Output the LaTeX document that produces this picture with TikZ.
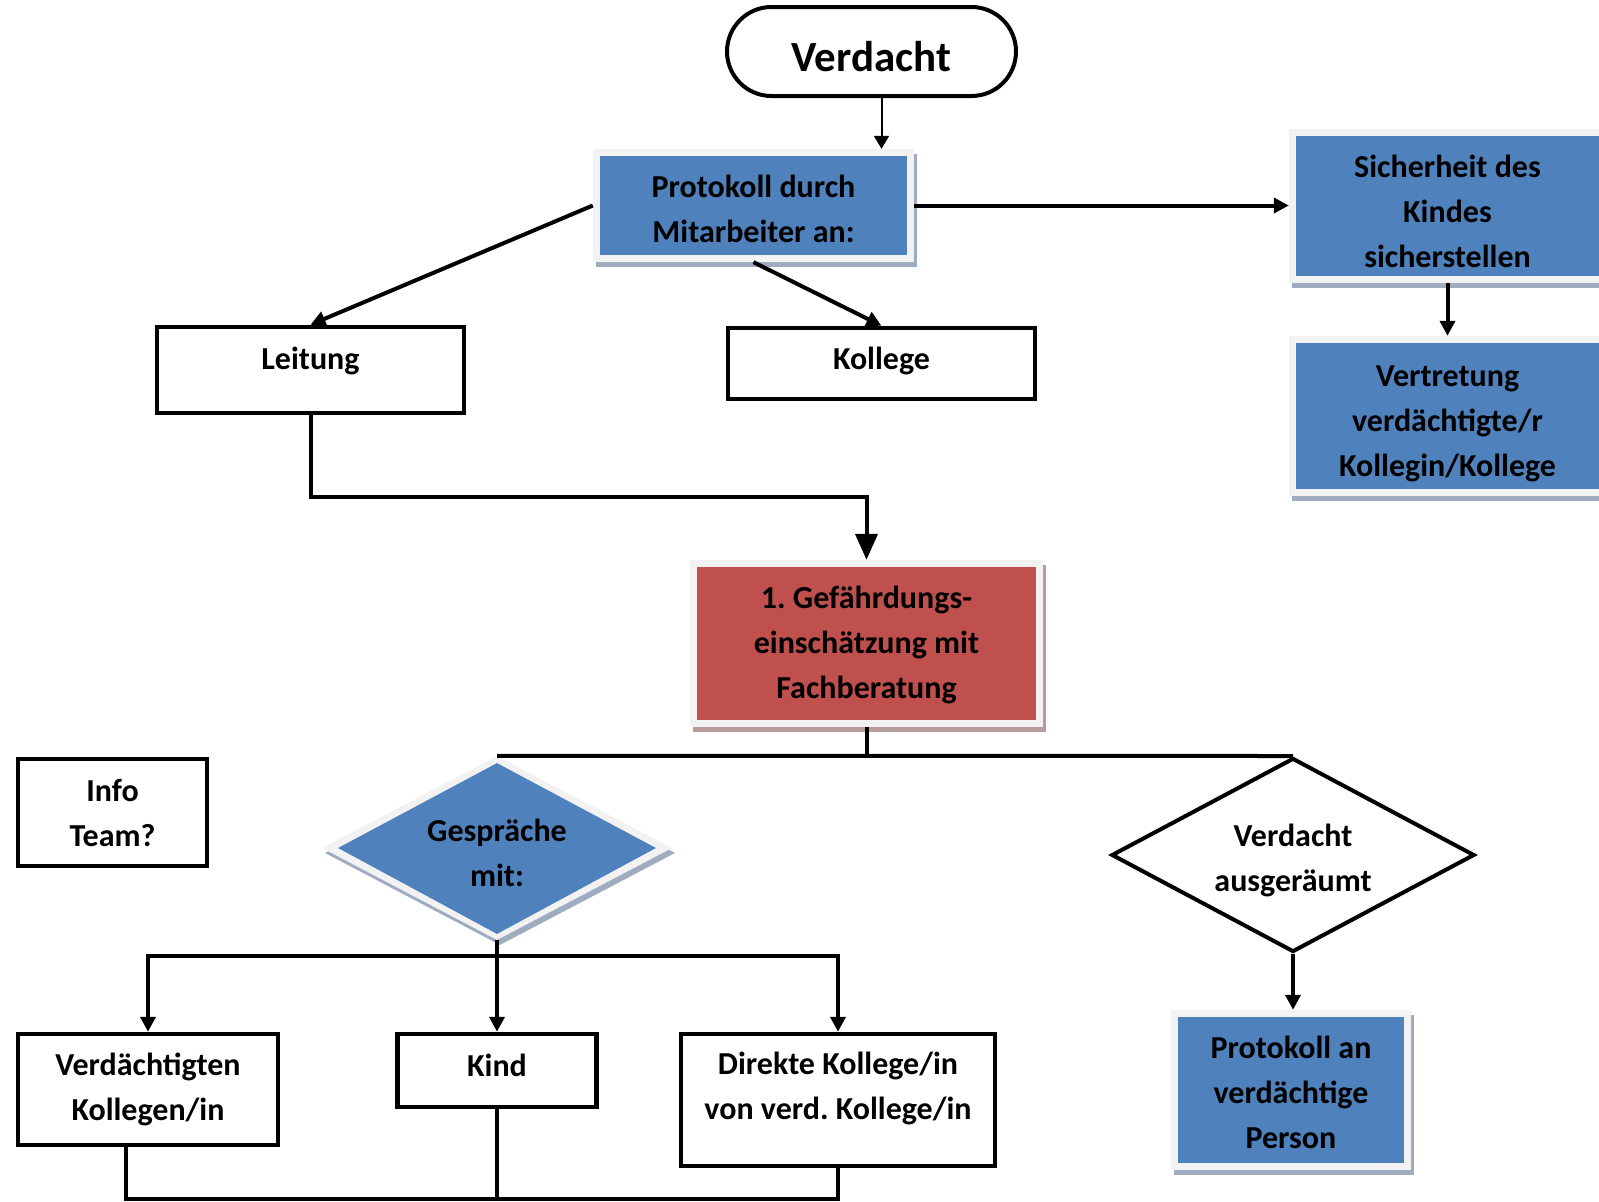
\documentclass[tikz,border=0pt]{standalone}
\usepackage{fontspec}
\setmainfont{Carlito}
\usetikzlibrary{shapes.geometric,shapes.misc,shadows,arrows.meta}

\definecolor{boxblue}{HTML}{4F81BD}
\definecolor{boxred}{HTML}{C0504D}
\definecolor{framegrey}{HTML}{F2F2F2}
\definecolor{shadeblue}{HTML}{9FACC0}
\definecolor{shadered}{HTML}{B89C9C}

\tikzset{
  txt/.style={align=center, font=\bfseries\fontsize{32}{45}\selectfont},
  box/.style={txt, draw, line width=4.5pt, fill=white, inner sep=0pt},
  panel/.style 2 args={txt, fill=framegrey, inner sep=0pt,
    drop shadow={shadow xshift=3pt, shadow yshift=-5pt, fill=#2, opacity=1},
    path picture={\fill[#1] ([shift={(7pt,-7pt)}]path picture bounding box.north west)
      rectangle ([shift={(-7pt,7pt)}]path picture bounding box.south east);}},
  dpanel/.style={txt, diamond, aspect=2, inner sep=0pt, fill=framegrey,
    drop shadow={shadow xshift=3pt, shadow yshift=-5pt, fill=shadeblue, opacity=1},
    path picture={\fill[boxblue] ([yshift=-7pt]path picture bounding box.north)
      -- ([xshift=-16pt]path picture bounding box.east) -- ([yshift=6pt]path picture bounding box.south)
      -- ([xshift=16pt]path picture bounding box.west) -- cycle;}},
  link/.style={line width=4pt},
  arr/.style={link, -{Triangle[width=15pt,length=15pt]}}
}

\begin{document}
\begin{tikzpicture}[x=1pt, y=-1pt]
        \useasboundingbox (0,0) rectangle (1599,1202);
        \node[box, shape=rounded rectangle, line width=4pt, minimum width=289pt, minimum height=89pt,
          font=\bfseries\fontsize{43}{50}\selectfont, text height=41pt] (verdacht) at (871.5,51.5) {Verdacht};
        \node[panel={boxblue}{shadeblue}, minimum width=321pt, minimum height=113pt, text height=74pt] (protokoll) at (753.5,205.5) {Protokoll durch\\Mitarbeiter an:};
        \node[panel={boxblue}{shadeblue}, minimum width=317pt, minimum height=154pt, text height=124pt] (sicherheit) at (1447.5,206) {Sicherheit des\\Kindes\\sicherstellen};
        \node[panel={boxblue}{shadeblue}, minimum width=317pt, minimum height=160pt, text height=126pt] (vertretung) at (1447.5,416) {Vertretung\\verdächtigte/r\\Kollegin/Kollege};
        \node[box, minimum width=307pt, minimum height=86pt, text depth=24pt] (leitung) at (310.5,370) {Leitung};
        \node[box, minimum width=307pt, minimum height=71pt, text depth=10pt] (kollege) at (881.5,363.5) {Kollege};
        \node[panel={boxred}{shadered}, minimum width=353pt, minimum height=167pt, text depth=2pt] (gefahr) at (866.5,643.5) {1.\ Gefährdungs-\\einschätzung mit\\Fachberatung};
        \node[box, minimum width=189pt, minimum height=107pt] (info) at (112.5,812.5) {Info\\Team?};
        \node[dpanel, minimum width=350pt, minimum height=184pt, text height=77pt] (gespraeche) at (497,848) {Gespräche\\mit:};
        \node[box, diamond, aspect=2, line width=4pt, minimum width=363pt, minimum height=194pt, text height=79pt] (ausgeraeumt) at (1293,855) {Verdacht\\ausgeräumt};
        \node[panel={boxblue}{shadeblue}, minimum width=240pt, minimum height=160pt, text height=118pt] (protokollan) at (1291,1090) {Protokoll an\\verdächtige\\Person};
        \node[box, minimum width=260pt, minimum height=111pt] (verdaechtigter) at (148,1089.5) {Verdächtigten\\Kollegen/in};
        \node[box, minimum width=199pt, minimum height=73pt, text depth=10pt] (kind) at (497,1070.5) {Kind};
        \node[box, minimum width=314pt, minimum height=132pt, text depth=29pt] (direkte) at (838,1100) {Direkte Kollege/in\\von verd.\ Kollege/in};

        \draw[line width=2pt, -{Triangle[width=15pt,length=13pt]}] ([xshift=10pt]verdacht.south) -- ([xshift=10pt]verdacht.south |- protokoll.north);
        \draw[arr] (protokoll.east) -- (protokoll.east -| sicherheit.west);
        \draw[arr] (protokoll.west) -- (leitung.north);
        \draw[arr] (protokoll.south) -- (kollege.north);
        \draw[arr] (sicherheit.south) -- (vertretung.north);
        \draw[arr, -{Triangle[width=22pt,length=26pt]}] (leitung.south) -- ++(0,82) -| (gefahr.north);
        \draw[link] (gefahr.south) -- (gefahr.south |- gespraeche.north);
        \draw[link] (gespraeche.north) -- (ausgeraeumt.north);
        \draw[arr] (ausgeraeumt.south) -- (ausgeraeumt.south |- protokollan.north);
        \draw[link] (gespraeche.south) -- ++(0,16) coordinate (bus);
        \draw[arr] (bus) -- (kind.north);
        \draw[arr] (bus) -| (verdaechtigter.north);
        \draw[arr] (bus) -| (direkte.north);
        \draw[link] ([xshift=-22pt]verdaechtigter.south) -- ++(0,52) coordinate (foot) -| (direkte.south);
        \draw[link] (kind.south) -- (kind.south |- foot);
\end{tikzpicture}
\end{document}
